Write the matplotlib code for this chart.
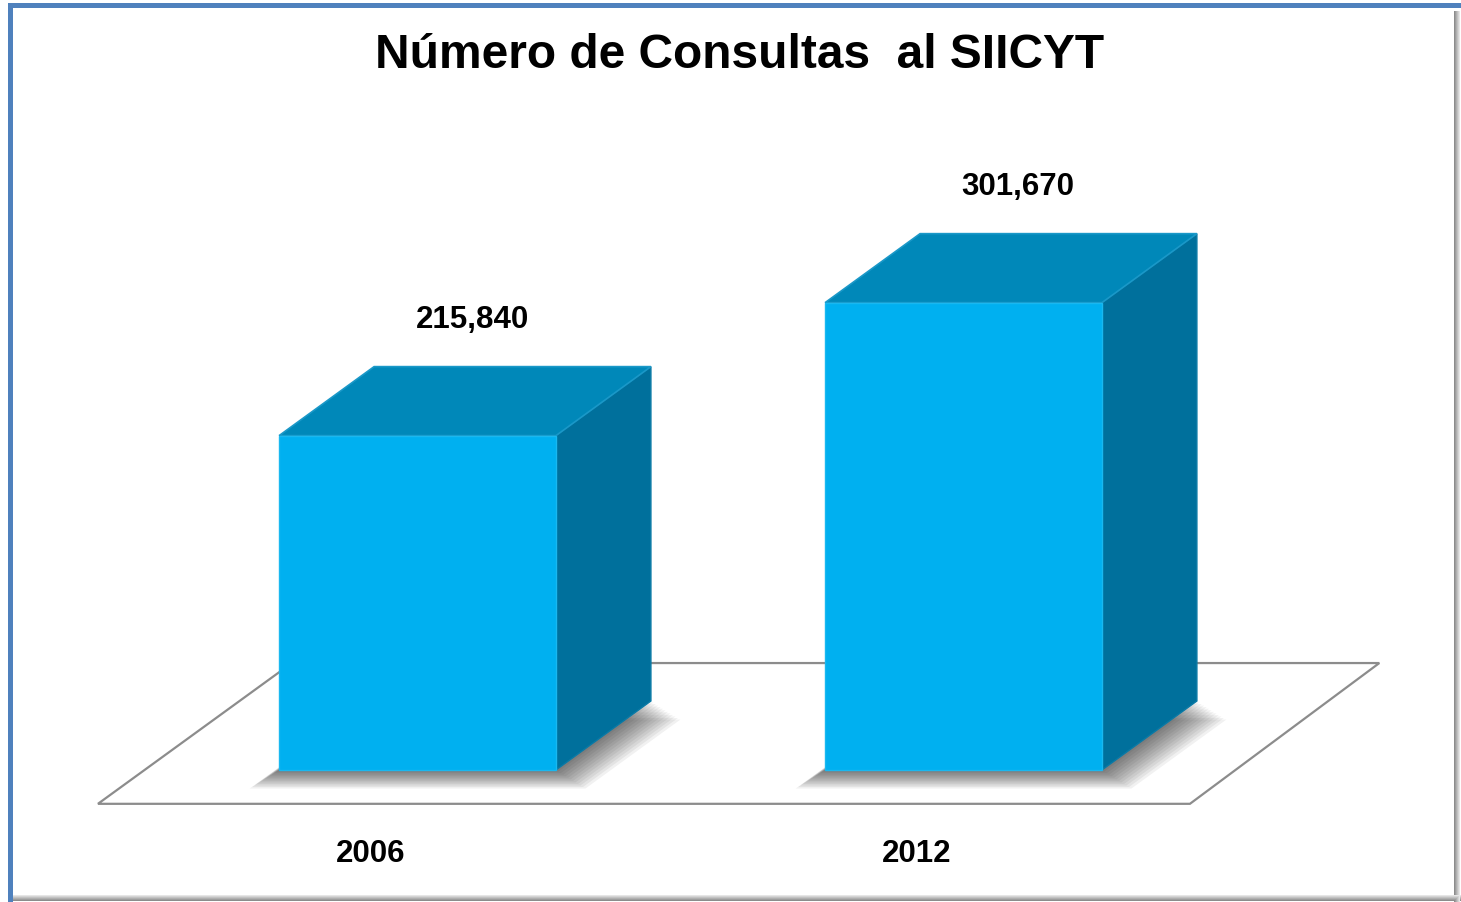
import matplotlib
matplotlib.use("Agg")
import matplotlib.pyplot as plt
from matplotlib.patches import Polygon, Rectangle

# data
years = ["2006", "2012"]
consultas = [215840, 301670]
value_labels = ["215,840", "301,670"]
title = "Número de Consultas  al SIICYT"

# colours / geometry (in axis units)
FRONT = "#00B0F0"
TOP = "#0088B9"
SIDE = "#00709C"
BAR_W = 0.507
DX = 0.174          # depth offset along x (category units)
DY = 44540          # depth offset along y (value units)
FLOOR_Z = (-0.49, 1.55)
FLOOR_X = (-0.5, 1.5)
FONT = ["Liberation Sans", "DejaVu Sans"]

fig = plt.figure(figsize=(14.61, 9.03), dpi=100)
ax = fig.add_axes([0, 0, 1, 1])
ax.set_xlim(-0.7647, 1.9112)
ax.set_ylim(-85206, 497680)
ax.axis("off")

# floor
z0, z1 = FLOOR_Z
x0, x1 = FLOOR_X
floor = [(x0 + z0 * DX, z0 * DY), (x1 + z0 * DX, z0 * DY),
         (x1 + z1 * DX * 0.97, z1 * DY), (x0 + z1 * DX, z1 * DY)]
ax.add_patch(Polygon(floor, closed=True, facecolor="white",
                     edgecolor="#8C8C8C", lw=1.6, zorder=1))

# bars
for i, v in enumerate(consultas):
    xl, xr = i - BAR_W / 2, i + BAR_W / 2
    # soft shadow around the footprint
    for k in range(12):
        e = 0.0045 * (12 - k)
        ey = 1000 * (12 - k)
        shadow = [(xl - e, -ey), (xr + e, -ey),
                  (xr + DX + e, DY - ey), (xl + DX - e, DY - ey)]
        ax.add_patch(Polygon(shadow, closed=True, facecolor="black",
                             edgecolor="none", alpha=0.055, zorder=2))
    side = [(xr, 0), (xr + DX, DY), (xr + DX, v + DY), (xr, v)]
    top = [(xl, v), (xr, v), (xr + DX, v + DY), (xl + DX, v + DY)]
    ax.add_patch(Polygon(side, closed=True, facecolor=SIDE,
                         edgecolor="#0A7AA6", lw=1, zorder=3))
    ax.add_patch(Polygon(top, closed=True, facecolor=TOP,
                         edgecolor="#1A98C8", lw=1.2, zorder=3))
    ax.add_patch(Rectangle((xl, 0), BAR_W, v, facecolor=FRONT,
                           edgecolor="#19B8F0", lw=1, zorder=4))

    ax.text(i + 0.1, v + 75500, value_labels[i], ha="center", va="center",
            fontsize=22.5, fontweight="bold", family=FONT, zorder=5)
    ax.text(i + z0 * DX, -53600, years[i], ha="center", va="center",
            fontsize=22.5, fontweight="bold", family=FONT, zorder=5)

fig.text(0.5065, 0.939, title, ha="center", va="center", fontsize=34.5,
         fontweight="bold", family=FONT)

# frame: blue top/left, grey shadow right/bottom
W, H = 1461, 903
for k in range(6):
    g = 0.55 + 0.07 * k
    fig.patches.append(Rectangle(((W - 7 + k) / W, 0), 1 / W, (H - 12) / H,
                                 transform=fig.transFigure, facecolor=(g, g, g),
                                 edgecolor="none", zorder=10))
    fig.patches.append(Rectangle((8 / W, (1 + k) / H), (W - 8) / W, 1 / H,
                                 transform=fig.transFigure, facecolor=(g, g, g),
                                 edgecolor="none", zorder=10))
fig.patches.append(Rectangle((8 / W, (H - 9) / H), (W - 8) / W, 5 / H,
                             transform=fig.transFigure, facecolor="#4F81BD",
                             edgecolor="none", zorder=11))
fig.patches.append(Rectangle((8 / W, 0), 5 / W, (H - 4) / H,
                             transform=fig.transFigure, facecolor="#4F81BD",
                             edgecolor="none", zorder=11))

fig.savefig("out.png", dpi=100)
